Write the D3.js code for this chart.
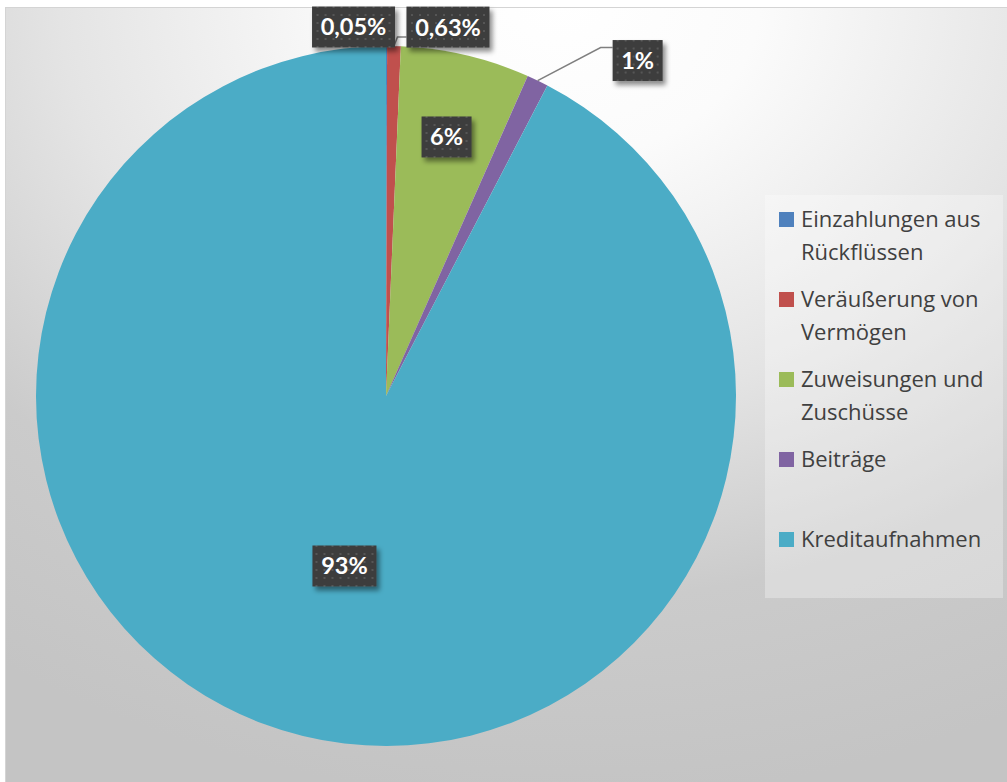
<!DOCTYPE html>
<html>
<head>
<meta charset="utf-8">
<script src="https://cdn.jsdelivr.net/npm/d3@7"></script>
<style>
  html, body { margin: 0; padding: 0; background: #ffffff; }
  svg { display: block; }
  text.data-label { font-family: Lato, "Open Sans", sans-serif; }
  text.legend-label { font-family: "Open Sans", Lato, sans-serif; }
</style>
</head>
<body>
<svg id="chart" width="1007" height="782"></svg>
<script>
// Einnahmen aus Investitionstätigkeit, Anteile in Prozent
const categories = [
  "Einzahlungen aus Rückflüssen",
  "Veräußerung von Vermögen",
  "Zuweisungen und Zuschüsse",
  "Beiträge",
  "Kreditaufnahmen"
];
const legendLines = [
  ["Einzahlungen aus", "Rückflüssen"],
  ["Veräußerung von", "Vermögen"],
  ["Zuweisungen und", "Zuschüsse"],
  ["Beiträge"],
  ["Kreditaufnahmen"]
];
const shares = [0.05, 0.63, 6, 1, 93];
const colors = ["#4f81bd", "#c0504d", "#9bbb59", "#8064a2", "#4bacc6"];

const fmt = v => (Number.isInteger(v) ? String(v) : d3.format(".2f")(v).replace(".", ",")) + "%";

const W = 1007, H = 782;
const cx = 386, cy = 396, R = 350;

// Label placement: inside labels sit on a radius fraction, outside labels get an offset
// from the slice's outer edge (with an optional leader line).
const labelPlacement = {
  "Einzahlungen aus Rückflüssen": { outside: true, dx: -33, dy: -19, leader: false },
  "Veräußerung von Vermögen":     { outside: true, dx: 54,  dy: -19, leader: true, ly: 10, elbow: 9 },
  "Zuweisungen und Zuschüsse":    { outside: false, r: 0.76 },
  "Beiträge":                     { outside: true, dx: 100, dy: -20, leader: true, ly: -13, elbow: 12 },
  "Kreditaufnahmen":              { outside: false, r: 0.5 }
};

const svg = d3.select("#chart");
const defs = svg.append("defs");

// Chart area background
const bg = defs.append("radialGradient")
  .attr("id", "bgGrad")
  .attr("gradientUnits", "userSpaceOnUse")
  .attr("cx", 0).attr("cy", 0).attr("r", 1)
  .attr("gradientTransform", "translate(560,0) scale(1000,800)");
[[0, "#ffffff"], [0.2, "#fbfbfb"], [0.5, "#e4e4e4"], [0.75, "#cbcbcb"], [1, "#c4c4c4"]]
  .forEach(([o, c]) => bg.append("stop").attr("offset", o).attr("stop-color", c));

// Dotted texture of the data labels
const pat = defs.append("pattern")
  .attr("id", "dots").attr("patternUnits", "userSpaceOnUse")
  .attr("width", 8).attr("height", 8);
pat.append("rect").attr("width", 8).attr("height", 8).attr("fill", "#3c3c3c");
pat.append("rect").attr("x", 3).attr("y", 3).attr("width", 2).attr("height", 2).attr("fill", "#575757");

const shadow = defs.append("filter").attr("id", "shadow")
  .attr("x", "-30%").attr("y", "-30%").attr("width", "170%").attr("height", "170%");
shadow.append("feDropShadow")
  .attr("dx", 3).attr("dy", 4).attr("stdDeviation", 2.5)
  .attr("flood-color", "#000").attr("flood-opacity", 0.45);

svg.append("rect")
  .attr("x", 5.5).attr("y", 7.5).attr("width", W + 10).attr("height", H + 10)
  .attr("fill", "url(#bgGrad)")
  .attr("stroke", "#d4d4d4").attr("stroke-width", 1);

// Pie
const data = categories.map((c, i) => ({ category: c, value: shares[i], color: colors[i], lines: legendLines[i] }));
const pie = d3.pie().value(d => d.value).sort(null).startAngle(0).endAngle(2 * Math.PI);
const arcs = pie(data);
const arc = d3.arc().innerRadius(0).outerRadius(R);

const g = svg.append("g").attr("transform", `translate(${cx},${cy})`);
g.selectAll("path.slice")
  .data(arcs)
  .join("path")
  .attr("class", "slice")
  .attr("d", arc)
  .attr("fill", d => d.data.color);

// Data labels
const pointAt = (d, r) => {
  const a = (d.startAngle + d.endAngle) / 2;
  return [Math.sin(a) * r, -Math.cos(a) * r];
};

const labelG = g.append("g");
arcs.forEach(d => {
  const p = labelPlacement[d.data.category];
  let x, y, anchor;
  if (p.outside) {
    anchor = pointAt(d, R);
    x = anchor[0] + p.dx;
    y = anchor[1] + p.dy;
  } else {
    [x, y] = pointAt(d, R * p.r);
  }
  const lg = labelG.append("g").attr("transform", `translate(${x},${y})`);
  const rect = lg.append("rect").attr("fill", "url(#dots)").attr("filter", "url(#shadow)");
  const t = lg.append("text")
    .attr("class", "data-label")
    .attr("text-anchor", "middle")
    .attr("dy", "0.36em")
    .attr("font-size", 23.5)
    .attr("font-weight", 700)
    .attr("fill", "#ffffff")
    .text(fmt(d.data.value));
  const tw = t.node().getComputedTextLength();
  const bw = Math.round(tw + 17), bh = 41;
  rect.attr("x", -bw / 2).attr("y", -bh / 2).attr("width", bw).attr("height", bh);

  if (p.outside && p.leader) {
    const bx = x - bw / 2, byy = y + p.ly;
    labelG.insert("polyline", ":first-child")
      .attr("points", [anchor, [bx - p.elbow, byy], [bx, byy]].map(q => q.join(",")).join(" "))
      .attr("fill", "none")
      .attr("stroke", "#7f7f7f")
      .attr("stroke-width", 1.5);
  }
});

// Legend
const legX = 765, legY = 195, legW = 238, legH = 403;
svg.append("rect")
  .attr("x", legX).attr("y", legY).attr("width", legW).attr("height", legH)
  .attr("fill", "#ffffff").attr("fill-opacity", 0.3);

const itemY = d3.scaleBand().domain(categories).range([212, 212 + 80 * categories.length]).paddingInner(0).align(0);
const leg = svg.append("g");
data.forEach(d => {
  const y0 = itemY(d.category);
  leg.append("rect")
    .attr("x", 779).attr("y", y0).attr("width", 15).attr("height", 15)
    .attr("fill", d.color);
  d.lines.forEach((line, j) => {
    leg.append("text")
      .attr("class", "legend-label")
      .attr("x", 801).attr("y", y0 + 15 + j * 33)
      .attr("font-size", 22)
      .attr("fill", "#404040")
      .text(line);
  });
});
</script>
</body>
</html>
